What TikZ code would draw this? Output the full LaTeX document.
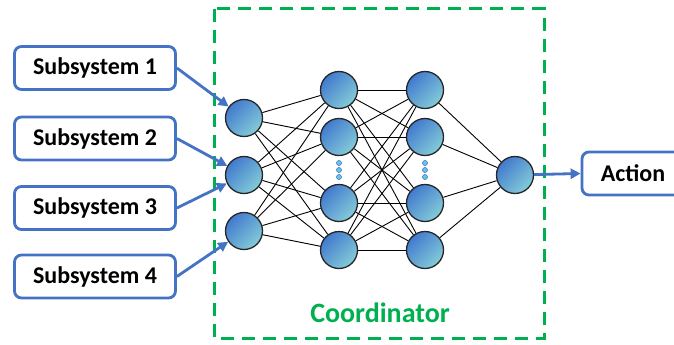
\documentclass[tikz,border=0pt]{standalone}
\usepackage{fontspec}
\setmainfont{Carlito}
\usetikzlibrary{arrows.meta}
\definecolor{boxblue}{RGB}{68,114,196}
\definecolor{coordgreen}{RGB}{0,176,80}
\definecolor{neurondark}{RGB}{66,122,206}
\definecolor{neuronlight}{RGB}{132,204,216}
\definecolor{dotcyan}{RGB}{100,200,225}
\begin{document}
\begin{tikzpicture}[x=1pt,y=-1pt,
  subbox/.style={draw=boxblue, line width=2.8pt, rounded corners=7pt, fill=white,
    minimum width=161pt, minimum height=43pt, inner sep=0pt,
    font=\fontsize{24}{28}\selectfont\bfseries},
  neuron/.style={circle, draw=black!85, line width=1.3pt, minimum size=37pt, inner sep=0pt,
    top color=neurondark, bottom color=neuronlight, shading angle=45},
  link/.style={line width=0.9pt, black},
  feed/.style={draw=boxblue, line width=2.8pt, -{Triangle[length=10pt,width=10pt]}},
  dotmark/.style={circle, draw=boxblue, fill=dotcyan, line width=0.6pt, minimum size=5pt, inner sep=0pt}
]
\useasboundingbox (0,0) rectangle (674,345);
\clip (0,0) rectangle (674,345);

% coordinator frame
\draw[coordgreen, line width=3pt, dash pattern=on 13pt off 8pt] (214,9) rectangle (544,338);
\node[text=coordgreen, font=\fontsize{28}{32}\selectfont\bfseries] (coord) at (380,313) {Coordinator};

% subsystem boxes
\node[subbox] (s1) at (95,68) {Subsystem 1};
\node[subbox] (s2) at (95,138.5) {Subsystem 2};
\node[subbox] (s3) at (95,208) {Subsystem 3};
\node[subbox] (s4) at (95,276.5) {Subsystem 4};

% action box (runs off the right edge)
\node[subbox, minimum width=108pt] (act) at (636,173.5) {\hspace*{-6pt}Action};

% network layers
\node[neuron] (i1) at (244,118) {};
\node[neuron] (i2) at (244,175) {};
\node[neuron] (i3) at (244,231) {};

\foreach \n/\y in {1/90,2/137,3/203,4/250}{
  \node[neuron] (a\n) at (339,\y) {};
  \node[neuron] (b\n) at (425,\y) {};
}
\node[neuron] (o) at (515,175) {};

% ellipsis dots
\foreach \c/\x in {a/339,b/425}{
  \node[dotmark] (\c d1) at (\x,163) {};
  \node[dotmark] (\c d2) at (\x,170) {};
  \node[dotmark] (\c d3) at (\x,177) {};
}

% full connections
\foreach \i in {1,2,3}{
  \foreach \j in {1,2,3,4}{
    \draw[link] (i\i) -- (a\j);
  }
}
\foreach \i in {1,2,3,4}{
  \foreach \j in {1,2,3,4}{
    \draw[link] (a\i) -- (b\j);
  }
  \draw[link] (b\i) -- (o);
}

% inputs and output
\draw[feed] (s1.east) -- (i1);
\draw[feed] (s2.east) -- (i2);
\draw[feed] (s3.east) -- (i2);
\draw[feed] (s4.east) -- (i3);
\draw[feed] (o) -- (act.west);
\end{tikzpicture}
\end{document}
